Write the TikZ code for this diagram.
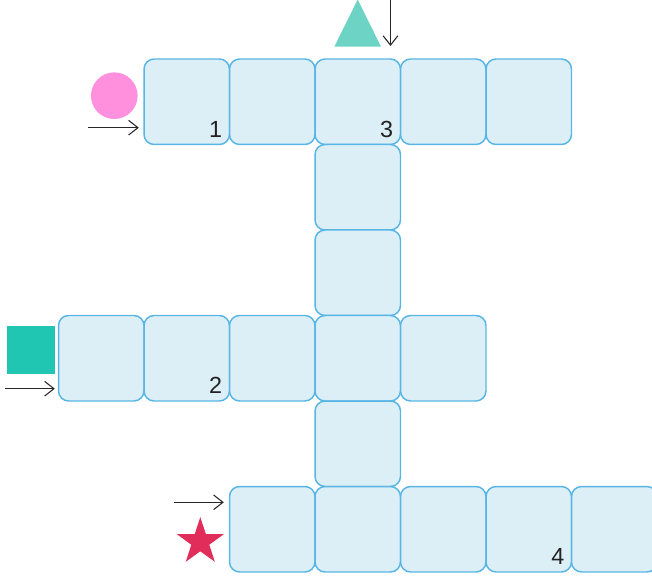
\documentclass[tikz,border=0pt]{standalone}
\usepackage{fontspec}
\setmainfont{Liberation Sans}
\usetikzlibrary{arrows.meta,shapes.geometric}
\definecolor{cellfill}{HTML}{DDEFF6}
\definecolor{cellline}{HTML}{58B6E6}
\definecolor{pinkc}{HTML}{FF90DE}
\definecolor{tealtri}{HTML}{6CD3C5}
\definecolor{tealsq}{HTML}{20C6B1}
\definecolor{starc}{HTML}{E02D5A}
\definecolor{numc}{HTML}{222222}
\begin{document}
\begin{tikzpicture}[x=0.75pt,y=-0.75pt,
  cell/.style={draw=cellline, fill=cellfill, line width=1.1pt, rounded corners=7.5pt,
    minimum size=64.1pt, inner sep=0pt, outer sep=0pt},
  num/.style={inner sep=0pt, anchor=base east, text=numc, font=\fontsize{17.5}{20}\selectfont},
  pointer/.style={line width=0.8pt, draw=black!85, -{Straight Barb[length=7pt,width=11pt]}}]
\useasboundingbox (0,0) rectangle (652,580);
% cells
\foreach \c/\r/\n in {1/0/a1,2/0/a2,3/0/a3,4/0/a4,5/0/a5,
                      3/1/v1,3/2/v2,
                      0/3/b0,1/3/b1,2/3/b2,3/3/b3,4/3/b4,
                      3/4/v4,
                      2/5/c2,3/5/c3,4/5/c4,5/5/c5,6/5/c6}
  \node[cell] (\n) at ({101.25+85.5*\c},{101.75+85.5*\r}) {};
% numbers
\node[num] (n1) at ([shift={(-7,-7.2)}]a1.south east) {1};
\node[num] (n3) at ([shift={(-7,-7.2)}]a3.south east) {3};
\node[num] (n2) at ([shift={(-7,-7.2)}]b1.south east) {2};
\node[num] (n4) at ([shift={(-7,-7.2)}]c5.south east) {4};
% shapes
\node[circle, fill=pinkc, minimum size=35pt, inner sep=0pt] (circ) at (114.3,95.7) {};
\fill[tealtri] (334.3,46.7) -- (357.7,-0.5) -- (381,46.7) -- cycle;
\node[fill=tealsq, minimum size=36pt, inner sep=0pt] (sq) at (31,349.7) {};
\node[star, star points=5, star point ratio=2.6, fill=starc, minimum size=37pt, inner sep=0pt] (st) at (200.3,541.8) {};
% arrows
\coordinate (s1) at (88.3,127.7);
\coordinate (e1) at (138.8,127.7);
\draw[pointer] (s1) -- (e1);
\coordinate (s3) at (390.5,-1);
\coordinate (e3) at (390.5,46);
\draw[pointer] (s3) -- (e3);
\coordinate (s2) at (5,388.7);
\coordinate (e2) at (54.8,388.7);
\draw[pointer] (s2) -- (e2);
\coordinate (s4) at (174,502.3);
\coordinate (e4) at (223.8,502.3);
\draw[pointer] (s4) -- (e4);
\end{tikzpicture}
\end{document}
